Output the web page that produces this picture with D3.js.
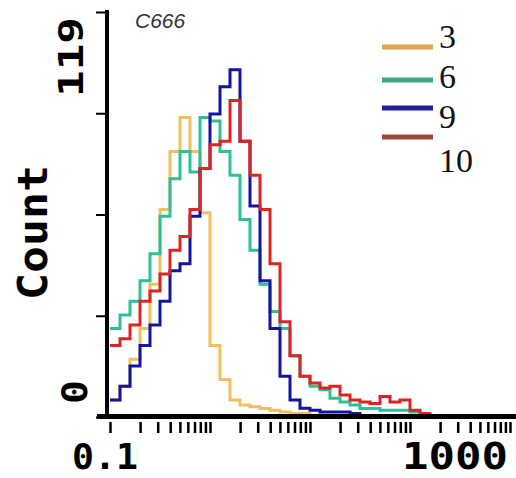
<!DOCTYPE html>
<html>
<head>
<meta charset="utf-8">
<script src="https://cdn.jsdelivr.net/npm/d3@7"></script>
<style>
  body { margin: 0; background: #fff; }
  svg { display: block; }
  .mono { font-family: 'DejaVu Sans Mono', monospace; font-weight: bold; fill: #000; }
</style>
</head>
<body>
<div id="chart"></div>
<script>

// histogram channels: 40 bins, 10 per decade, from 0.1 to 1000
var binEdges = d3.range(41).map(function(i){ return Math.pow(10, -1 + i / 10) })

var seriesNames = ['3', '6', '9', '10']
var lineColors = ['#f0c060', '#2fbf97', '#1414a0', '#dc2424']
var legendColors = ['#d9a850', '#3fa88a', '#1f1f9a', '#a0453f']

var counts3  = [5, 9, 17, 26, 39, 61, 78, 88, 78, 60, 21, 11, 5, 3.5, 3, 2.5, 2, 1.5, 1, 1, 0.5, 0.5, 0, 0, 0, 0, 0, 0, 0, 0, 0, 0, 0, 0, 0, 0, 0, 0, 0, 0]
var counts6  = [26, 30, 34, 40, 48, 59, 70, 78, 72, 88, 87, 78, 71, 58, 49, 39, 31, 26, 18, 12, 9, 8, 5.5, 4.4, 3.5, 2.5, 2.5, 2, 2, 2, 1.5, 0.5, 0, 0, 0, 0, 0, 0, 0, 0]
var counts9  = [5, 9, 15, 21, 27, 34, 43, 45, 59, 73, 89, 97, 102, 81, 62, 40, 26, 12, 5, 2.6, 2, 1.5, 1.5, 1.5, 1, 0, 0, 0, 0, 0, 0, 0, 0, 0, 0, 0, 0, 0, 0, 0]
var counts10 = [21, 23, 27, 34, 37, 42, 49, 53, 61, 73, 80, 81, 93, 81, 71, 61, 45, 28, 18, 12, 10, 8.5, 9, 6.5, 5, 4.4, 4, 6, 4.4, 5, 2, 1, 0, 0, 0, 0, 0, 0, 0, 0]
var allCounts = [counts3, counts6, counts9, counts10]

var yTicks = [0, 29.75, 59.5, 89.25, 119]
var xMajor = [0.1, 1, 10, 100, 1000]

var svg = d3.select('#chart').append('svg').attr('width', 516).attr('height', 478)

var x = d3.scaleLog().domain([0.1, 1000]).range([110, 510])
var y = d3.scaleLinear().domain([0, 119]).range([417, 12])

var line = d3.line()
  .x(function(d){ return x(d[0]) })
  .y(function(d){ return y(d[1]) })
  .curve(d3.curveStepAfter)

allCounts.forEach(function(vals, k){
  var pts = vals.map(function(v, i){ return [binEdges[i], v] })
  pts.push([binEdges[vals.length], vals[vals.length - 1]])
  svg.append('path')
    .attr('d', line(pts))
    .attr('fill', 'none')
    .attr('stroke', lineColors[k])
    .attr('stroke-width', 3)
    .attr('stroke-linejoin', 'miter')
})

// axes
var yAxis = d3.axisLeft(y).tickValues(yTicks).tickSize(11).tickFormat('')
var yG = svg.append('g').attr('transform', 'translate(107,0)').call(yAxis)
yG.select('.domain').attr('stroke-width', 4).attr('d', 'M0,10V419')
yG.selectAll('.tick line').attr('stroke-width', 2)

var xMinor = []
xMajor.slice(0, 4).forEach(function(m){
  d3.range(2, 10).forEach(function(j){ xMinor.push(m * j) })
})
var xAxis = d3.axisBottom(x).tickValues(xMajor.concat(xMinor)).tickSize(11).tickFormat('')
var xG = svg.append('g').attr('transform', 'translate(0,422)').call(xAxis)
xG.select('.domain').remove()
xG.selectAll('.tick line').attr('stroke-width', 2.5)
svg.append('line').attr('x1', 97).attr('x2', 516).attr('y1', 416.5).attr('y2', 416.5)
  .attr('stroke', '#000').attr('stroke-width', 5)

// axis labels
svg.append('text').attr('class', 'mono').attr('x', 72).attr('y', 469)
  .attr('font-size', 36).attr('textLength', 66).attr('lengthAdjust', 'spacingAndGlyphs').text('0.1')
svg.append('text').attr('class', 'mono').attr('x', 402).attr('y', 469)
  .attr('font-size', 37).attr('textLength', 106).attr('lengthAdjust', 'spacingAndGlyphs').text('1000')

svg.append('text').attr('class', 'mono').attr('transform', 'translate(83,97) rotate(-90)')
  .attr('font-size', 34).attr('textLength', 80).attr('lengthAdjust', 'spacingAndGlyphs').text('119')
svg.append('text').attr('class', 'mono').attr('transform', 'translate(87,404) rotate(-90)')
  .attr('font-size', 36).attr('textLength', 24).attr('lengthAdjust', 'spacingAndGlyphs').text('0')
svg.append('text').attr('class', 'mono').attr('transform', 'translate(47,300) rotate(-90)')
  .attr('font-size', 40).attr('textLength', 135).attr('lengthAdjust', 'spacingAndGlyphs').text('Count')

svg.append('text').attr('x', 135).attr('y', 28)
  .attr('font-family', 'Liberation Sans, Arial, sans-serif').attr('font-style', 'italic')
  .attr('font-size', 21).attr('fill', '#333').text('C666')

// legend
var legY = [47, 80, 108, 137]
var legTextY = [48, 88, 128, 172]
seriesNames.forEach(function(name, k){
  svg.append('line').attr('x1', 382).attr('x2', 433).attr('y1', legY[k]).attr('y2', legY[k])
    .attr('stroke', legendColors[k]).attr('stroke-width', 5)
  svg.append('text').attr('x', 439).attr('y', legTextY[k])
    .attr('font-family', 'Liberation Serif, Times New Roman, serif')
    .attr('font-size', 34).attr('fill', '#111').text(name)
})

</script>
</body>
</html>
